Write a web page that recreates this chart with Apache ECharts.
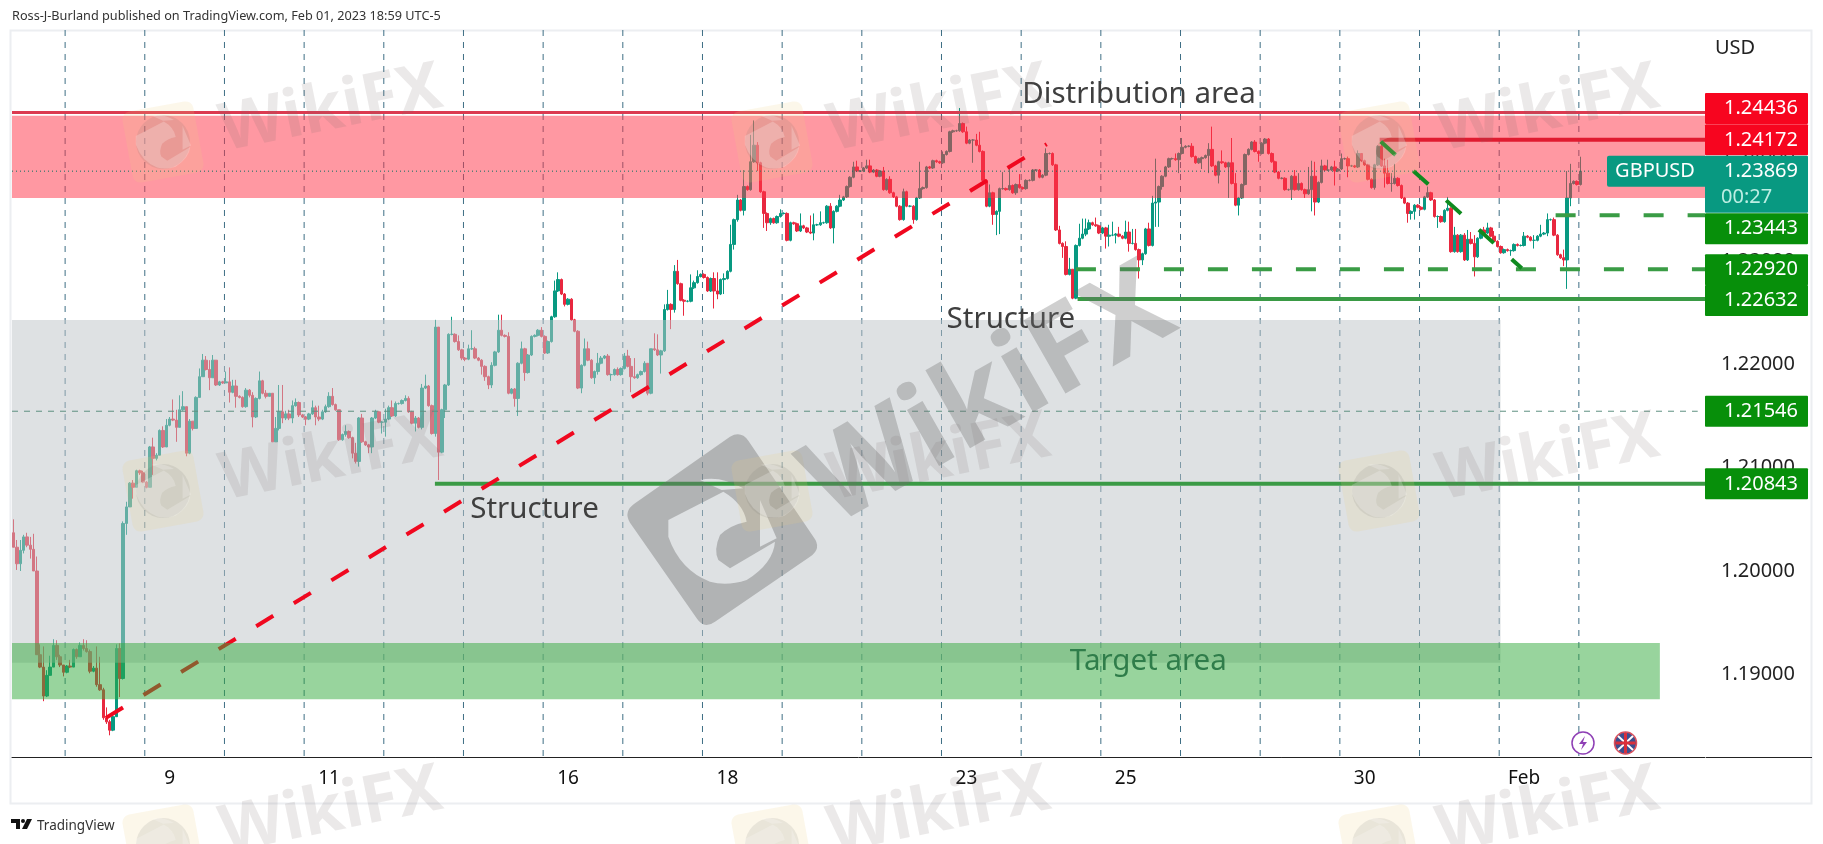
<!DOCTYPE html>
<html><head><meta charset="utf-8">
<style>html,body{margin:0;padding:0;background:#fff}#c{width:1823px;height:844px}</style>
<script src="https://cdn.jsdelivr.net/npm/echarts@6/dist/echarts.min.js"></script>
</head><body><div id="c"></div>
<script>
const firstOpen=1.2037;
const closesA=[1.2023,1.2007,1.2020,1.2033,1.2025,1.2021,1.2000,1.1919,1.1907,1.1879,1.1899,1.1907,1.1928,1.1917,1.1909,1.1902,1.1908,1.1907,1.1924,1.1917,1.1928,1.1925,1.1922,1.1903,1.1906,1.1890,1.1885,1.1858,1.1854,1.1846,1.1859,1.1925,1.1896,1.2046,1.2062,1.2085,1.2081,1.2097,1.2095,1.2086,1.2081,1.2120,1.2109,1.2112,1.2136,1.2120,1.2141,1.2147,1.2146,1.2139,1.2156,1.2159,1.2114,1.2145,1.2138,1.2168,1.2188,1.2204,1.2195,1.2187,1.2204,1.2180,1.2183,1.2182,1.2183,1.2173,1.2179,1.2169,1.2168,1.2159,1.2175,1.2170,1.2149,1.2167,1.2184,1.2172,1.2169,1.2172];
const upA=[13,7,10,2,4,8,15,14,10,20,5,11,6,5,2,0,1,6,1,1,3,6,8,2,2,21,27,2,10,2,3,4,5,2,5,1,3,1,1,2,1,1,9,2,1,4,6,2,19,10,14,15,0,2,0,1,8,6,4,9,5,0,1,1,10,14,6,6,1,1,2,1,3,1,9,1,3,0];
const lowA=[0,6,7,3,2,9,0,0,1,5,1,0,0,3,2,4,1,1,0,2,0,2,1,2,1,2,1,2,2,5,1,0,18,1,11,0,11,0,2,1,1,0,16,2,0,1,0,1,1,14,0,1,3,1,2,0,0,0,1,12,0,1,1,1,0,10,1,11,1,1,1,2,10,1,1,1,2,0];
const closesB=[1.2125,1.2138,1.2154,1.2148,1.2152,1.2148,1.2160,1.2163,1.2151,1.2149,1.2147,1.2152,1.2158,1.2149,1.2147,1.2154,1.2159,1.2169,1.2161,1.2156,1.2127,1.2132,1.2135,1.2129,1.2114,1.2106,1.2148,1.2125,1.2122,1.2120,1.2148,1.2154,1.2144,1.2144,1.2147,1.2158,1.2150,1.2162,1.2162,1.2165,1.2167,1.2154,1.2143,1.2148,1.2139,1.2177,1.2179,1.2160,1.2133,1.2236,1.2115,1.2156,1.2180,1.2229,1.2229,1.2222,1.2214,1.2206,1.2205,1.2215,1.2215,1.2206,1.2204,1.2198,1.2188,1.2180,1.2199,1.2212,1.2233,1.2228,1.2227,1.2172,1.2176,1.2167,1.2201,1.2215,1.2192,1.2209,1.2227,1.2228,1.2233];
const upB=[0,11,26,26,3,4,5,4,1,1,1,1,7,2,11,2,2,4,8,1,0,1,6,1,1,10,1,4,1,1,1,2,1,1,10,2,7,2,1,1,3,2,1,2,1,4,11,1,1,7,0,1,1,1,17,1,6,1,1,4,18,2,1,1,1,1,3,1,15,15,1,4,1,1,1,7,1,1,1,1,1];
const lowB=[0,0,2,5,2,2,5,1,2,1,6,1,1,8,2,1,1,1,1,1,1,1,2,1,5,2,5,1,1,6,6,1,1,11,14,1,1,1,1,1,1,1,1,8,1,2,1,1,1,3,27,1,8,1,1,1,1,2,2,1,1,1,1,8,4,4,3,1,1,1,1,1,1,8,17,1,8,1,1,1,1];
const closesC=[1.2227,1.2211,1.2222,1.2246,1.2271,1.2282,1.2268,1.2258,1.2263,1.2243,1.2232,1.2177,1.2199,1.2215,1.2204,1.2187,1.2193,1.2201,1.2206,1.2208,1.2190,1.2190,1.2195,1.2190,1.2196,1.2208,1.2198,1.2188,1.2187,1.2190,1.2193,1.2201,1.2172,1.2215,1.2214,1.2209,1.2213,1.2253,1.2258,1.2253,1.2290,1.2278,1.2262,1.2261,1.2261,1.2274,1.2279,1.2285,1.2287,1.2284,1.2271,1.2283,1.2271,1.2268,1.2282,1.2283,1.2290,1.2316,1.2340,1.2359,1.2349,1.2372,1.2369,1.2396,1.2412,1.2395,1.2367,1.2346,1.2337,1.2341,1.2337,1.2343,1.2346,1.2346,1.2320,1.2337,1.2336];
const upC=[3,1,1,1,10,7,1,1,1,1,1,1,1,10,7,1,1,10,2,1,2,1,1,2,1,3,6,8,18,1,1,2,0,0,15,15,1,5,14,1,6,11,1,1,1,13,2,6,1,1,1,1,6,18,1,5,1,19,1,5,1,16,1,26,24,3,1,1,1,1,1,1,4,1,1,1,1];
const lowC=[1,1,1,1,1,1,1,2,1,1,1,1,5,1,1,1,6,3,1,1,1,6,1,1,1,1,1,15,1,1,1,1,2,1,1,1,18,1,1,19,3,1,1,14,1,1,1,1,1,1,1,1,17,5,1,14,1,1,5,2,1,5,1,1,1,8,1,14,8,2,1,1,1,1,1,1,1];
const closesD=[1.2329,1.2334,1.2332,1.2328,1.2327,1.2335,1.2335,1.2337,1.2337,1.2353,1.2332,1.2348,1.2353,1.2359,1.2362,1.2372,1.2381,1.2391,1.2387,1.2387,1.2390,1.2392,1.2386,1.2388,1.2382,1.2387,1.2369,1.2379,1.2366,1.2362,1.2353,1.2340,1.2367,1.2353,1.2353,1.2340,1.2361,1.2370,1.2371,1.2391,1.2390,1.2397,1.2396,1.2395,1.2403,1.2406,1.2425,1.2426,1.2426,1.2433,1.2425,1.2414,1.2417,1.2417,1.2412,1.2406,1.2378,1.2353,1.2366,1.2345,1.2348,1.2370,1.2370,1.2369,1.2373,1.2366,1.2374,1.2371,1.2370,1.2378,1.2378,1.2388,1.2388,1.2381,1.2383,1.2404,1.2404,1.2393,1.2330];
const upD=[1,12,1,1,16,11,1,11,1,1,3,1,1,5,1,1,1,5,6,1,1,6,6,1,1,1,4,1,3,1,1,1,3,1,1,1,1,26,1,1,1,1,1,1,3,1,1,1,1,15,1,5,1,1,6,13,1,1,8,1,1,1,16,1,17,1,1,10,1,1,1,1,1,1,1,5,1,1,1];
const lowD=[1,1,1,1,1,7,1,1,1,1,1,15,1,1,1,1,1,1,1,1,1,1,1,1,1,1,1,1,1,1,1,1,1,1,1,4,1,1,1,1,1,1,1,1,1,1,1,1,1,1,1,1,1,22,1,1,1,1,1,10,20,22,1,1,1,1,2,1,1,1,1,1,1,1,1,1,1,1,1];
const closesE=[1.2317,1.2314,1.2287,1.2292,1.2264,1.2315,1.2322,1.2326,1.2331,1.2337,1.2335,1.2334,1.2327,1.2332,1.2324,1.2325,1.2325,1.2326,1.2324,1.2322,1.2328,1.2317,1.2317,1.2311,1.2301,1.2307,1.2331,1.2315,1.2356,1.2357,1.2372,1.2382,1.2391,1.2399,1.2399,1.2398,1.2404,1.2410,1.2411,1.2411,1.2401,1.2395,1.2399,1.2400,1.2402,1.2408,1.2392,1.2383,1.2396,1.2395,1.2391,1.2395,1.2375,1.2354,1.2361,1.2374,1.2403,1.2408,1.2415,1.2406,1.2404,1.2414,1.2418,1.2404,1.2396,1.2386,1.2380,1.2380,1.2369,1.2369,1.2382,1.2369,1.2375,1.2369,1.2365,1.2369,1.2382,1.2357];
const upE=[4,1,5,11,0,1,14,15,10,3,1,7,1,1,1,10,13,1,7,1,11,10,14,14,1,1,1,6,7,42,1,1,1,1,1,5,1,9,1,1,3,1,1,1,1,6,22,1,1,11,1,1,24,10,1,1,1,1,1,2,1,1,1,1,1,1,1,1,1,1,1,6,10,1,1,22,15,14];
const lowE=[1,11,1,1,1,1,1,1,2,1,1,1,1,1,12,10,1,8,1,1,1,8,1,1,18,5,1,1,1,23,24,3,1,1,1,1,13,1,1,1,1,1,1,10,1,17,1,1,8,1,1,30,1,1,10,1,1,1,1,1,8,1,1,1,1,1,1,1,1,1,10,1,1,1,4,1,21,13];
const closesF=[1.2376,1.2392,1.2388,1.2388,1.2391,1.2387,1.2389,1.2399,1.2399,1.2392,1.2392,1.2391,1.2404,1.2397,1.2393,1.2379,1.2371,1.2393,1.2411,1.2392,1.2385,1.2375,1.2375,1.2380,1.2373,1.2361,1.2356,1.2346,1.2348,1.2354,1.2352,1.2350,1.2362,1.2366,1.2359,1.2343,1.2343,1.2338,1.2349,1.2351,1.2309,1.2325,1.2309,1.2325,1.2301,1.2321,1.2317,1.2304,1.2322,1.2330,1.2327,1.2332,1.2324,1.2319,1.2314,1.2308,1.2311,1.2310,1.2310,1.2316,1.2315,1.2315,1.2324,1.2323,1.2320,1.2320,1.2324,1.2326,1.2327,1.2340,1.2340,1.2325,1.2306,1.2303,1.2301,1.2361,1.2375,1.2377,1.2374,1.23869];
const upF=[1,6,1,10,1,6,1,5,1,2,1,1,3,0,1,1,1,1,1,6,7,13,10,14,1,1,1,1,1,1,1,1,1,6,1,1,1,1,1,11,1,8,1,1,2,9,7,8,1,1,3,5,1,5,1,1,1,1,1,1,1,1,4,1,1,5,1,9,1,6,1,2,1,1,8,26,19,1,1,14];
const lowF=[1,1,1,1,1,14,1,1,1,11,1,1,1,1,1,1,1,2,1,1,14,1,8,1,1,1,1,9,6,8,1,1,1,1,1,1,11,1,1,1,1,1,1,1,1,1,1,19,1,1,1,1,1,1,1,1,1,1,5,1,1,1,1,1,1,8,1,1,1,3,1,1,1,1,6,28,8,1,1,1];
const closes=[...closesA,...closesB,...closesC,...closesD,...closesE,...closesF];
const upperWickPips=[...upA,...upB,...upC,...upD,...upE,...upF];
const lowerWickPips=[...lowA,...lowB,...lowC,...lowD,...lowE,...lowF];

const slotCount=510;
const tickLabels=['9','11','16','18','23','25','30','Feb'];
const tickSlots=[47,95,167,215,287,335,407,455];
const priceTicks=[1.19,1.20,1.21,1.22,1.23,1.24];
const verticalMarks=[16,40,64,88,112,136,160,184,208,232,256,280,304,328,352,376,400,424,448,472];

const redZone=[0,510,1.24406,1.2361];
const greyZone=[0,448.4,1.22429,1.19113];
const greenZone=[0,496.4,1.19303,1.18759];
const trendUp=[[28.3,1.18579],[311.7,1.2413]];
const trendDown=[[412.3,1.24155],[454.8,1.2293]];
const notes=[['Distribution area',339.5,1.24607,'#3f3f3f'],['Structure',157.4,1.2059,'#3f3f3f'],['Structure',300.9,1.22429,'#3f3f3f'],['Target area',342.3,1.19128,'#2f7d4a']];
const tagPrices=[1.24436,1.24172,1.23443,1.22920,1.22632,1.21546,1.20843];
const tagColors=['#f7051f','#f7051f','#078f0a','#078f0a','#078f0a','#078f0a','#078f0a'];
const tagShift=[-4,0,13.5,0.5,1.5,0,0];

const FONT='"Noto Sans",sans-serif';
const PIP=0.0001;
const categories=Array.from({length:slotCount},(_,i)=>{const k=tickSlots.indexOf(i);return k<0?'':tickLabels[k];});
const candles=closes.map((c,i)=>{
  const o=i?closes[i-1]:firstOpen;
  return [o,c,Math.min(o,c)-(lowerWickPips[i]||0)*PIP,Math.max(o,c)+(upperWickPips[i]||0)*PIP];
});
function hLine(x0,x1,p,color,width,type){
  return {type:'line',xAxisIndex:1,yAxisIndex:0,z:4,silent:true,symbol:'none',animation:false,
    data:[[x0,p],[x1,p]],lineStyle:{color,width,type,cap:'butt'}};
}
function seg(pts,color){
  return {type:'line',xAxisIndex:1,yAxisIndex:0,z:4,silent:true,symbol:'none',animation:false,
    data:pts,lineStyle:{color,width:4,type:[20,24],cap:'butt'}};
}
function zone(row,color,z){
  return {type:'custom',xAxisIndex:1,yAxisIndex:0,z,silent:true,data:[row],
    renderItem:(p,api)=>{
      const a=api.coord([api.value(0),api.value(2)]),b=api.coord([api.value(1),api.value(3)]);
      return {type:'rect',shape:{x:a[0],y:a[1],width:b[0]-a[0],height:b[1]-a[1]},style:{fill:color}};
    }};
}
const eagle='M205 360L370 275Q430 310 440 365Q390 375 360 405Q340 450 355 480L390 505L440 540Q380 560 330 545Q240 510 205 410Z'
 +'M300 240Q360 225 430 265L365 270Z'
 +'M390 505L525 425Q520 490 440 540Z'
 +'M480 300L530 415L480 440Z';
const badge='M445 122Q423 91 390 110L105 310Q69 334.5 90 368L290 655Q312 689 345 665L630 470Q667 445 640 410Z';
const markCols=[[331,163],[939,772],[1548,1379]];
const markRows=[[110,142],[459,491],[812,845]];
const S=0.17;
const series=[
 {type:'candlestick',xAxisIndex:0,yAxisIndex:0,z:2,data:candles,barWidth:3,
  itemStyle:{color:'#089981',color0:'#e8283f',borderColor:'#089981',borderColor0:'#e8283f',borderWidth:1}},
 {type:'custom',xAxisIndex:1,yAxisIndex:0,z:1,silent:true,data:verticalMarks.map(v=>[v,0]),
  renderItem:(p,api)=>{
    const x=api.coord([api.value(0),1.2])[0],cs=p.coordSys;
    return {type:'line',shape:{x1:x,y1:cs.y,x2:x,y2:cs.y+cs.height},style:{stroke:'#3f6f85',lineWidth:1,lineDash:[6,6]}};
  }},
 hLine(0,510,1.24436,'#dc3a50',3),
 hLine(412,510,1.24172,'#e01b30',4),
 hLine(465,510,1.23443,'#3a9c45',4,[20,24]),
 hLine(320.5,510,1.2292,'#3a9c45',4,[20,24]),
 hLine(321,510,1.22632,'#3a9a45',4),
 hLine(127.4,510,1.20843,'#3a9a45',4),
 hLine(0,507.8,1.21546,'#5e9080',1,[6,6]),
 hLine(0,480.4,1.23869,'#0a6f60',1,[1,3]),
 seg(trendUp,'#f0081f'),
 seg(trendDown,'#0f8a1f'),
 zone(greyZone,'rgba(190,195,200,0.5)',3),
 zone(redZone,'rgba(255,50,70,0.5)',3),
 zone(greenZone,'rgba(50,170,60,0.5)',5),
 {type:'custom',xAxisIndex:1,yAxisIndex:0,z:6,silent:true,data:notes.map(n=>[n[1],n[2],n[0],n[3]]),
  renderItem:(p,api)=>{
    const c=api.coord([api.value(0),api.value(1)]);
    return {type:'text',x:c[0],y:c[1],style:{text:notes[p.dataIndex][0],fill:notes[p.dataIndex][3],font:'29.5px '+FONT,textAlign:'center',textVerticalAlign:'middle'}};
  }},
 {type:'custom',xAxisIndex:1,yAxisIndex:0,z:8,silent:true,data:tagPrices.map(v=>[0,v]),
  renderItem:(p,api)=>{
    const i=p.dataIndex,cs=p.coordSys,x=cs.x+cs.width,y=api.coord([0,api.value(1)])[1]+tagShift[i];
    return {type:'group',children:[
      {type:'rect',shape:{x:x,y:y-15.5,width:103,height:31,r:1},style:{fill:tagColors[i]}},
      {type:'text',x:x+93,y:y,style:{text:tagPrices[i].toFixed(5),fill:'#fff',font:'20px '+FONT,textAlign:'right',textVerticalAlign:'middle'}}
    ]};
  }},
 {type:'custom',xAxisIndex:1,yAxisIndex:0,z:9,silent:true,data:[[0,1.23869]],
  renderItem:(p,api)=>{
    const cs=p.coordSys,x=cs.x+cs.width,y=api.coord([0,api.value(1)])[1];
    return {type:'group',children:[
      {type:'rect',shape:{x:x-98,y:y-15.5,width:100,height:31,r:2},style:{fill:'#089981'}},
      {type:'rect',shape:{x:x,y:y-15.5,width:103,height:57,r:1},style:{fill:'#089981'}},
      {type:'text',x:x-50,y:y,style:{text:'GBPUSD',fill:'#fff',font:'20px '+FONT,textAlign:'center',textVerticalAlign:'middle'}},
      {type:'text',x:x+93,y:y,style:{text:'1.23869',fill:'#fff',font:'20px '+FONT,textAlign:'right',textVerticalAlign:'middle'}},
      {type:'text',x:x+16,y:y+26,style:{text:'00:27',fill:'#bdeee3',font:'20px '+FONT,textAlign:'left',textVerticalAlign:'middle'}}
    ]};
  }},
 {type:'custom',xAxisIndex:1,yAxisIndex:0,z:50,silent:true,clip:false,data:[[0,1.2]],
  renderItem:()=>{
    const kids=[{type:'path',x:600,y:400,scaleX:1/3,scaleY:1/3,shape:{pathData:badge+eagle},style:{fill:'rgba(110,110,110,0.4)'}}];
    markCols.forEach(c=>markRows.forEach(r=>{
      kids.push({type:'rect',x:c[1],y:r[1],rotation:0.18,shape:{x:-36,y:-36,width:72,height:72,r:8},style:{fill:'rgba(240,205,130,0.17)'}});
      kids.push({type:'circle',x:c[1],y:r[1],shape:{cx:0,cy:0,r:27},style:{fill:'rgba(110,110,110,0.13)'}});
      kids.push({type:'path',x:c[1]-365*S,y:r[1]-395*S,scaleX:S,scaleY:S,shape:{pathData:eagle},style:{fill:'rgba(255,255,255,0.22)'}});
    }));
    return {type:'group',children:kids};
  }}
];

const graphics=[
 {type:'rect',z:0,shape:{x:10.5,y:30.5,width:1801,height:773},style:{fill:'none',stroke:'#eceef1',lineWidth:2}},
 {type:'line',z:7,shape:{x1:1706,y1:757.5,x2:1812,y2:757.5},style:{stroke:'#222',lineWidth:1}},
 {type:'text',z:7,x:12,y:16,style:{text:'Ross-J-Burland published on TradingView.com, Feb 01, 2023 18:59 UTC-5',fill:'#333',font:'12.7px '+FONT,textVerticalAlign:'middle'}},
 {type:'text',z:7,x:1735,y:48,style:{text:'USD',fill:'#222',font:'20px '+FONT,textAlign:'center',textVerticalAlign:'middle'}},
 {type:'text',z:7,x:37,y:826,style:{text:'TradingView',fill:'#333',font:'13.5px '+FONT,textVerticalAlign:'middle'}},
 {type:'polygon',z:7,shape:{points:[[11,819],[20,819],[20,829],[16,829],[16,823],[11,823]]},style:{fill:'#111'}},
 {type:'circle',z:7,shape:{cx:23,cy:821,r:2},style:{fill:'#111'}},
 {type:'polygon',z:7,shape:{points:[[27,819],[32,819],[27,829],[22,829]]},style:{fill:'#111'}},
 {type:'circle',z:7,shape:{cx:1583,cy:743,r:11},style:{fill:'#fff',stroke:'#8e3fb5',lineWidth:1.5}},
 {type:'polygon',z:7,shape:{points:[[1585,736],[1579,744],[1583,744],[1581,750],[1587,742],[1583,742]]},style:{fill:'#8e3fb5'}},
 {type:'circle',z:7,shape:{cx:1625.5,cy:743,r:11},style:{fill:'#3c4f8f',stroke:'#d9505c',lineWidth:1.5}},
 {type:'line',z:7,shape:{x1:1618,y1:736,x2:1633,y2:750},style:{stroke:'#fff',lineWidth:2}},
 {type:'line',z:7,shape:{x1:1633,y1:736,x2:1618,y2:750},style:{stroke:'#fff',lineWidth:2}},
 {type:'line',z:7,shape:{x1:1625.5,y1:733,x2:1625.5,y2:753},style:{stroke:'#d9303c',lineWidth:3}},
 {type:'line',z:7,shape:{x1:1615.5,y1:743,x2:1635.5,y2:743},style:{stroke:'#d9303c',lineWidth:3}}
];
markCols.forEach(c=>markRows.forEach(r=>{
  graphics.push({type:'text',z:51,x:c[0],y:r[0],rotation:0.2,style:{text:'WikiFX',fill:'rgba(120,110,110,0.15)',font:'bold 66px '+FONT,textAlign:'center',textVerticalAlign:'middle'}});
}));
graphics.push({type:'text',z:52,x:990,y:398,rotation:0.52,style:{text:'WikiFX',fill:'rgba(110,110,110,0.33)',font:'bold 118px '+FONT,textAlign:'center',textVerticalAlign:'middle'}});

const chart=echarts.init(document.getElementById('c'));
chart.setOption({
 animation:false,backgroundColor:'#fff',
 grid:{left:12,right:118,top:30,bottom:87,containLabel:false},
 xAxis:[
  {type:'category',data:categories,boundaryGap:true,
   axisLine:{show:true,lineStyle:{color:'#222',width:1}},axisTick:{show:false},splitLine:{show:false},
   axisLabel:{interval:0,margin:12,color:'#111',fontFamily:'"Noto Sans"',fontSize:19,hideOverlap:false}},
  {type:'value',min:0,max:slotCount,show:false,splitLine:{show:false}}
 ],
 yAxis:{type:'value',position:'right',min:1.182,max:1.25235,scale:true,
  axisLine:{show:false},axisTick:{show:false},splitLine:{show:false},
  axisLabel:{customValues:priceTicks,margin:16,color:'#222',fontFamily:'"Noto Sans"',fontSize:20,formatter:v=>v.toFixed(5)}},
 series,graphic:graphics
});
</script></body></html>
